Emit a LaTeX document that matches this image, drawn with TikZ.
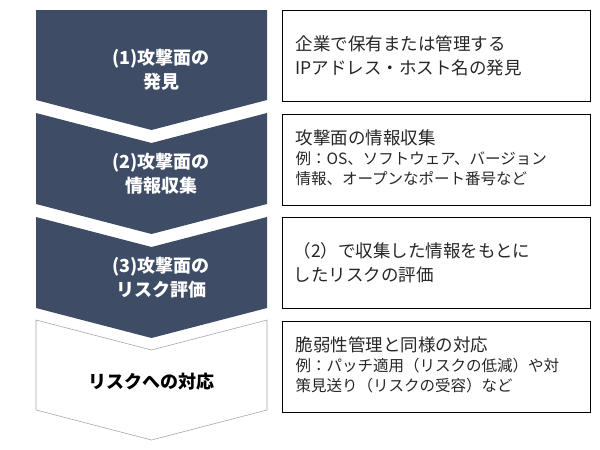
\documentclass[tikz,border=0pt]{standalone}
\usepackage{fontspec}
\setmainfont{Noto Sans CJK JP}
\definecolor{navy}{HTML}{3E4C66}
\tikzset{
  chev/.style={fill=navy, draw=none},
  chevwhite/.style={fill=white, draw=gray!70, line width=0.6pt},
  chevtext/.style={text=white, font=\bfseries\fontsize{18}{24}\selectfont, align=center},
  descbox/.style={draw=black, line width=1pt, minimum width=308pt, minimum height=91pt, anchor=north west},
  desctext/.style={align=left, anchor=west, font=\fontsize{15.5}{20}\selectfont, text=black!85},
}
\begin{document}
\begin{tikzpicture}[x=1pt,y=-1pt]
\useasboundingbox (0,0) rectangle (600,450);
% chevrons
\fill[chev] (36,10) -- (267,10) -- (267,100) -- (151.5,130) -- (36,100) -- cycle;
\fill[chev] (36,113) -- (151.5,143) -- (267,113) -- (267,204) -- (151.5,234) -- (36,204) -- cycle;
\fill[chev] (36,217) -- (151.5,247) -- (267,217) -- (267,308) -- (151.5,338) -- (36,308) -- cycle;
\draw[chevwhite] (36,320) -- (151.5,350) -- (267,320) -- (267,410) -- (151.5,440) -- (36,410) -- cycle;
\node[chevtext] (s1) at (161,70) {(1)攻撃面の\\発見};
\node[chevtext] (s2) at (161,174) {(2)攻撃面の\\情報収集};
\node[chevtext] (s3) at (161,278) {(3)攻撃面の\\リスク評価};
\node[chevtext, text=black] (s4) at (151.5,382) {リスクへの対応};
% descriptions
\node[descbox] (b1) at (282,10) {};
\node[descbox] (b2) at (282,114) {};
\node[descbox] (b3) at (282,217) {};
\node[descbox] (b4) at (282,321) {};
\node[desctext, font=\fontsize{17.5}{24}\selectfont] (t1) at ([xshift=10pt]b1.west) {企業で保有または管理する\\IPアドレス・ホスト名の発見};
\node[desctext] (t2) at ([xshift=10pt,yshift=2pt]b2.west) {{\fontsize{17.5}{22}\selectfont 攻撃面の情報収集}\\例：OS、ソフトウェア、バージョン\\情報、オープンなポート番号など};
\node[desctext, font=\fontsize{17.5}{24}\selectfont] (t3) at ([xshift=8pt]b3.west) {（2）で収集した情報をもとに\\したリスクの評価};
\node[desctext] (t4) at ([xshift=10pt,yshift=2pt]b4.west) {{\fontsize{17.5}{22}\selectfont 脆弱性管理と同様の対応}\\例：パッチ適用（リスクの低減）や対\\策見送り（リスクの受容）など};
\end{tikzpicture}
\end{document}
